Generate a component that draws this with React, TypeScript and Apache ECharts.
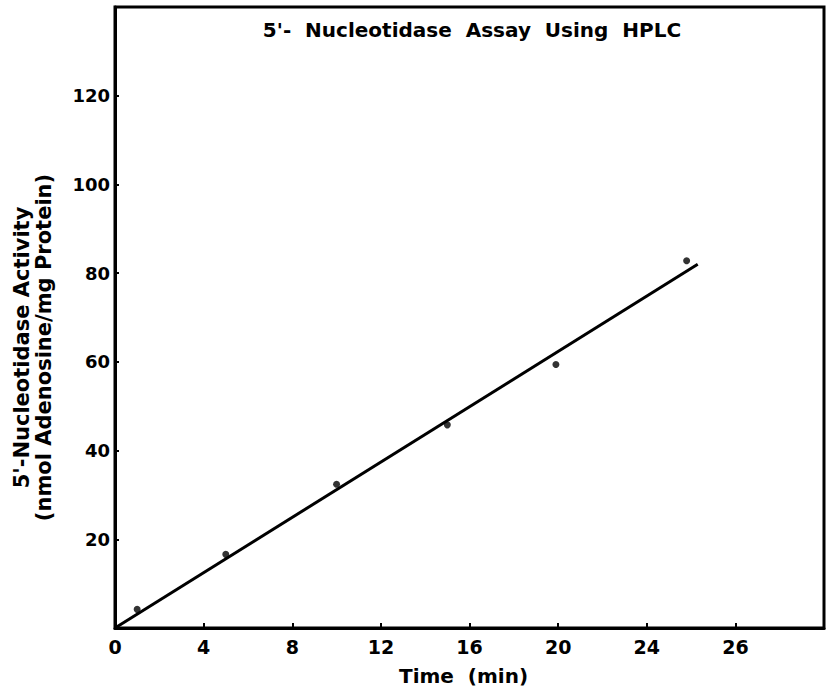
import React, { useEffect, useRef } from "react";
import * as echarts from "echarts";

const title = "5'-  Nucleotidase  Assay  Using  HPLC";
const xName = "Time  (min)";
const yName = "5'-Nucleotidase Activity\n(nmol Adenosine/mg Protein)";
// x tick labels at 0,4,...,32 (the original figure labels the 28 tick as "26")
const xTickLabels = ["0", "4", "8", "12", "16", "20", "24", "26", ""];
const yTickLabels = ["", "20", "40", "60", "80", "100", "120", ""];
const timeMin = [1, 5, 10, 15, 19.9, 25.8];
const activity = [4.2, 16.6, 32.4, 45.8, 59.4, 82.8];
const fitX = [0, 26.3];
const fitY = [0, 82.0];

const FONT = "DejaVu Sans";

export default function App() {
  const ref = useRef<HTMLDivElement>(null);
  useEffect(() => {
    if (!ref.current) return;
    const chart = echarts.init(ref.current, null, { renderer: "svg" });
    chart.setOption({
      animation: false,
      backgroundColor: "#fff",
      title: {
        text: title,
        left: 467,
        top: 15,
        textAlign: "center",
        textStyle: { fontFamily: FONT, fontSize: 20, fontWeight: "bold", color: "#000" },
      },
      grid: {
        left: 115,
        right: 4,
        top: 7,
        bottom: 66,
        show: true,
        borderColor: "#000",
        borderWidth: 3,
        backgroundColor: "transparent",
      },
      xAxis: {
        type: "value",
        min: 0,
        max: 32,
        interval: 4,
        name: xName,
        nameLocation: "middle",
        nameGap: 38,
        nameTextStyle: { fontFamily: FONT, fontSize: 20, fontWeight: "bold", color: "#000", padding: [0, 12, 0, 0] },
        axisLine: { show: true, lineStyle: { color: "#000", width: 3 } },
        axisTick: { show: true, inside: true, length: 5, lineStyle: { color: "#000", width: 2 } },
        axisLabel: {
          fontFamily: FONT,
          fontSize: 19,
          fontWeight: "bold",
          color: "#000",
          margin: 9,
          formatter: (v: number) => xTickLabels[Math.round(v / 4)] ?? "",
        },
        splitLine: { show: false },
      },
      yAxis: {
        type: "value",
        min: 0,
        max: 140,
        interval: 20,
        name: yName,
        nameLocation: "middle",
        nameRotate: 90,
        nameGap: 60,
        nameTextStyle: {
          fontFamily: FONT,
          fontSize: 21,
          fontWeight: "bold",
          color: "#000",
          lineHeight: 22,
          padding: [0, 60, 0, 0],
        },
        axisLine: { show: true, lineStyle: { color: "#000", width: 3 } },
        axisTick: { show: true, inside: true, length: 4, lineStyle: { color: "#000", width: 2 } },
        axisLabel: {
          fontFamily: FONT,
          fontSize: 18,
          fontWeight: "bold",
          color: "#000",
          margin: 5,
          formatter: (v: number) => yTickLabels[Math.round(v / 20)] ?? "",
        },
        splitLine: { show: false },
      },
      series: [
        {
          type: "line",
          data: fitX.map((x, i) => [x, fitY[i]]),
          showSymbol: false,
          symbol: "none",
          lineStyle: { color: "#000", width: 3 },
          silent: true,
        },
        {
          type: "scatter",
          data: timeMin.map((x, i) => [x, activity[i]]),
          symbol: "circle",
          symbolSize: 7,
          itemStyle: { color: "#000" },
        },
      ],
    });
    return () => chart.dispose();
  }, []);
  return (
    <div
      ref={ref}
      style={{ position: "fixed", left: 0, top: 0, width: 828, height: 694, background: "#fff" }}
    />
  );
}
